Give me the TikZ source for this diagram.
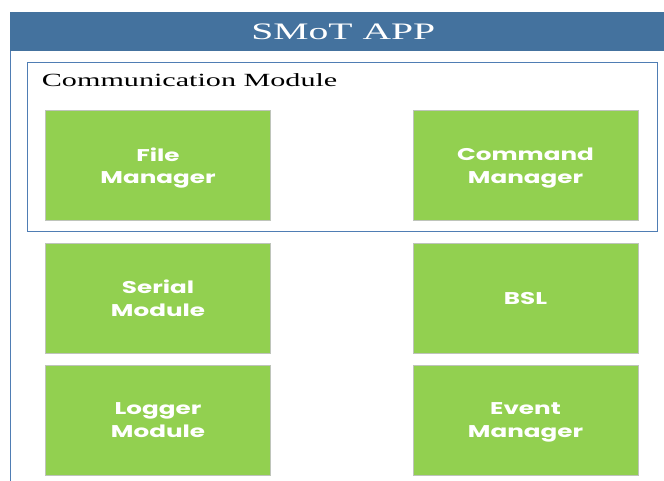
\documentclass[tikz,border=0pt]{standalone}
\usepackage{fontspec}
\setmainfont{Liberation Serif}
\newfontfamily\boxfont{Poppins}[UprightFont=* Bold]
\definecolor{hdrblue}{RGB}{68,114,158}
\definecolor{frameblue}{RGB}{79,125,180}
\definecolor{leaf}{RGB}{146,208,80}
\definecolor{leafedge}{RGB}{190,196,186}
\newcommand{\wide}[2][1.45]{\scalebox{#1}[1]{#2}}
\tikzset{
  module/.style={draw=leafedge, line width=0.8pt, fill=leaf, minimum width=225pt,
    minimum height=110pt, inner sep=0pt, align=center, text=white, text depth=0pt,
    font=\boxfont\fontsize{17}{22.6}\selectfont},
}
\begin{document}
\begin{tikzpicture}[x=1pt,y=-1pt]
\useasboundingbox (0,0) rectangle (664,480);
% outer application frame
\draw[frameblue, line width=0.9pt] (10,490) -- (10,12) -- (670,12);
\fill[hdrblue] (10,12) rectangle (670,51);
\node[text=white, anchor=base, inner sep=0pt, font=\fontsize{23.6}{28}\selectfont] (title) at (343.3,39.3) {\wide[1.68]{SMoT APP}};
% communication module group
\draw[frameblue, line width=0.9pt] (27,62) rectangle (657,231);
\node[anchor=base west, inner sep=0pt, font=\fontsize{18.6}{22}\selectfont] (comm) at (41.7,86) {\wide[1.62]{Communication Module}};
% component boxes
\node[module] (file) at (158,165.5) {\wide{File}\\\wide{Manager}};
\node[module] (cmd) at (525.5,165.5) {\wide{Command}\\\wide{Manager}};
\node[module] (serial) at (158,298) {\wide{Serial}\\\wide{Module}};
\node[module] (bsl) at (525.5,298) {\wide{BSL}};
\node[module] (logger) at (158,420) {\wide{Logger}\\\wide{Module}};
\node[module] (event) at (525.5,420) {\wide{Event}\\\wide{Manager}};
\end{tikzpicture}
\end{document}
